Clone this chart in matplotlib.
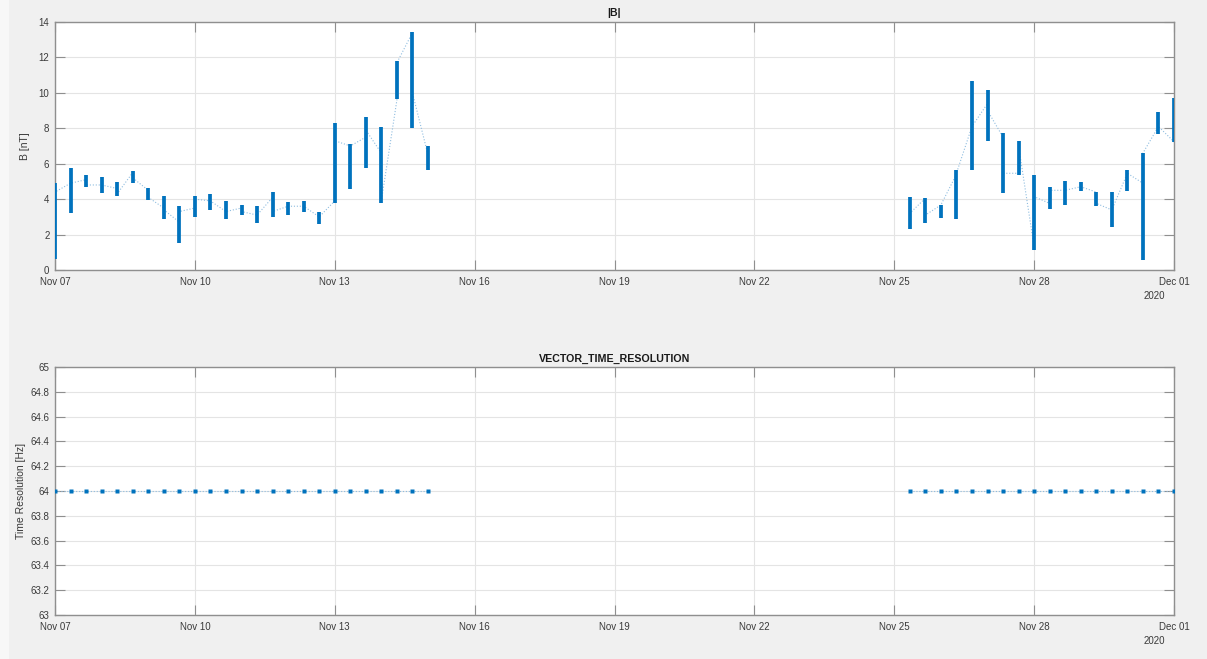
import matplotlib
matplotlib.use("Agg")
import matplotlib.pyplot as plt
import matplotlib.dates as mdates
from matplotlib.transforms import offset_copy
import pandas as pd

plt.rcParams['font.family'] = ['Liberation Sans', 'DejaVu Sans']

# ---- burst times (8-hourly magnetometer bursts) ----
times_a = ["2020-11-07 00:00", "2020-11-07 08:00", "2020-11-07 16:00",
           "2020-11-08 00:00", "2020-11-08 08:00", "2020-11-08 16:00",
           "2020-11-09 00:00", "2020-11-09 08:00", "2020-11-09 16:00",
           "2020-11-10 00:00", "2020-11-10 08:00", "2020-11-10 16:00",
           "2020-11-11 00:00", "2020-11-11 08:00", "2020-11-11 16:00",
           "2020-11-12 00:00", "2020-11-12 08:00", "2020-11-12 16:00",
           "2020-11-13 00:00", "2020-11-13 08:00", "2020-11-13 16:00",
           "2020-11-14 00:00", "2020-11-14 08:00", "2020-11-14 16:00",
           "2020-11-15 00:00"]
times_b = ["2020-11-25 08:00", "2020-11-25 16:00",
           "2020-11-26 00:00", "2020-11-26 08:00", "2020-11-26 16:00",
           "2020-11-27 00:00", "2020-11-27 08:00", "2020-11-27 16:00",
           "2020-11-28 00:00", "2020-11-28 08:00", "2020-11-28 16:00",
           "2020-11-29 00:00", "2020-11-29 08:00", "2020-11-29 16:00",
           "2020-11-30 00:00", "2020-11-30 08:00", "2020-11-30 16:00",
           "2020-12-01 00:00"]

# |B| range within each burst [nT]
b_min_a = [0.6, 3.2, 4.7, 4.35, 4.15, 4.9, 3.95, 2.9, 1.5, 3.0, 3.4, 2.9, 3.1,
           2.65, 3.0, 3.1, 3.25, 2.6, 3.8, 4.6, 5.75, 3.8, 9.65, 8.0, 5.65]
b_max_a = [4.9, 5.75, 5.35, 5.25, 4.95, 5.6, 4.65, 4.2, 3.6, 4.15, 4.3, 3.9, 3.65,
           3.6, 4.4, 3.85, 3.9, 3.3, 8.3, 7.1, 8.65, 8.05, 11.8, 13.45, 7.0]
# |B| at the first and last sample of each burst [nT]
b_first_a = [2.5, 4.9, 5.1, 4.8, 4.6, 5.5, 4.5, 3.5, 2.7, 3.5, 3.9, 3.3, 3.5,
             3.1, 4.1, 3.6, 3.6, 3.0, 3.9, 7.0, 7.5, 6.6, 9.6, 13.4, 6.5]
b_last_a = [4.4, 4.9, 4.8, 4.8, 4.3, 5.2, 4.1, 3.4, 3.3, 4.0, 3.9, 3.3, 3.3,
            3.1, 3.3, 3.6, 3.6, 3.0, 7.3, 7.0, 7.9, 3.9, 11.7, 10.0, 6.0]

b_min_b = [2.3, 2.67, 2.92, 2.9, 5.64, 7.28, 4.33, 5.38, 1.11, 3.42, 3.69, 4.44,
           3.63, 2.45, 4.46, 0.56, 7.66, 7.21]
b_max_b = [4.14, 4.08, 3.69, 5.63, 10.65, 10.16, 7.73, 7.26, 5.38, 4.67, 5.0, 4.97,
           4.4, 4.42, 5.63, 6.59, 8.94, 9.73]
b_first_b = [3.0, 4.05, 3.67, 5.4, 8.1, 9.4, 7.5, 5.46, 1.3, 3.76, 4.5, 4.7,
             4.4, 3.39, 5.46, 4.9, 8.1, 7.24]
b_last_b = [3.2, 3.1, 3.67, 5.46, 8.1, 9.0, 5.46, 7.0, 4.14, 4.5, 4.5, 4.7,
            3.76, 3.39, 5.46, 6.6, 8.1, 8.5]

# vector time resolution per burst [Hz]
rate_a = [64, 64, 64, 64, 64, 64, 64, 64, 64, 64, 64, 64, 64,
          64, 64, 64, 64, 64, 64, 64, 64, 64, 64, 64, 64]
rate_b = [64, 64, 64, 64, 64, 64, 64, 64, 64, 64, 64, 64,
          64, 64, 64, 64, 64, 64]

x_ticks = ["2020-11-07", "2020-11-10", "2020-11-13", "2020-11-16", "2020-11-19",
           "2020-11-22", "2020-11-25", "2020-11-28", "2020-12-01"]
x_range = ["2020-11-07", "2020-12-01"]

blue = '#0072BD'
faint = '#8fbde0'
edge = '#8f8f8f'
txt = '#3a3a3a'

fig = plt.figure(figsize=(12.07, 6.59), dpi=100, facecolor='#f0f0f0')
fig.patches.append(plt.Rectangle((0, 0), 9 / 1207, 1, transform=fig.transFigure,
                                 facecolor='#f7f7f7', edgecolor='none', zorder=-1))

ax1 = fig.add_axes([55 / 1207, 1 - 270 / 659, 1119 / 1207, 248 / 659])
ax2 = fig.add_axes([55 / 1207, 1 - 615 / 659, 1119 / 1207, 248 / 659])


def style(ax):
    ax.set_facecolor('white')
    for s in ax.spines.values():
        s.set_color(edge)
        s.set_linewidth(1.0)
    ax.tick_params(direction='in', length=7, width=0.8, color=edge,
                   top=True, right=True, labelsize=7, labelcolor=txt)
    ax.tick_params(axis='x', pad=5)
    ax.tick_params(axis='y', pad=4)
    ax.grid(True, color='#e4e4e4', linewidth=0.8)
    ax.set_axisbelow(True)
    ax.set_xlim(pd.to_datetime(x_range))
    ax.set_xticks(pd.to_datetime(x_ticks))
    ax.xaxis.set_major_formatter(mdates.DateFormatter('%b %d'))
    # year label below the last date tick
    tr = offset_copy(ax.transAxes, fig=fig, x=-9, y=-26, units='dots')
    ax.text(1.0, 0.0, '2020', transform=tr, ha='right', va='center',
            fontsize=7, color=txt)


def link_path(times, first, last):
    xs, ys = [], []
    for t, f, l in zip(pd.to_datetime(times), first, last):
        xs += [t, t]
        ys += [f, l]
    return xs, ys


# ---- |B| ----
for times, lo, hi, first, last in [(times_a, b_min_a, b_max_a, b_first_a, b_last_a),
                                   (times_b, b_min_b, b_max_b, b_first_b, b_last_b)]:
    xs, ys = link_path(times, first, last)
    ax1.plot(xs, ys, ls=':', lw=0.8, color=faint, zorder=2)
    ax1.vlines(pd.to_datetime(times), lo, hi, color=blue, lw=2.7, zorder=3,
               capstyle='butt')

ax1.set_ylim(0, 14)
ax1.set_yticks([0, 2, 4, 6, 8, 10, 12, 14])
ax1.set_ylabel('B [nT]', fontsize=7.5, color=txt, labelpad=6)
ax1.set_title('|B|', fontsize=7.7, fontweight='bold', color='#1a1a1a', pad=4)
style(ax1)

# ---- vector time resolution ----
for times, rate in [(times_a, rate_a), (times_b, rate_b)]:
    t = pd.to_datetime(times)
    ax2.plot(t, rate, ls=':', lw=0.8, color=faint, zorder=2)
    ax2.plot(t, rate, ls='none', marker='s', ms=2.8, color=blue, mec='none', zorder=3)

ax2.set_ylim(63, 65)
ax2.set_yticks([63, 63.2, 63.4, 63.6, 63.8, 64, 64.2, 64.4, 64.6, 64.8, 65])
ax2.set_yticklabels(['63', '63.2', '63.4', '63.6', '63.8', '64', '64.2', '64.4',
                     '64.6', '64.8', '65'])
ax2.set_ylabel('Time Resolution [Hz]', fontsize=7.5, color=txt, labelpad=3)
ax2.set_title('VECTOR_TIME_RESOLUTION', fontsize=7.7, fontweight='bold',
              color='#1a1a1a', pad=4)
style(ax2)

fig.savefig('out.png', dpi=100, facecolor=fig.get_facecolor())
